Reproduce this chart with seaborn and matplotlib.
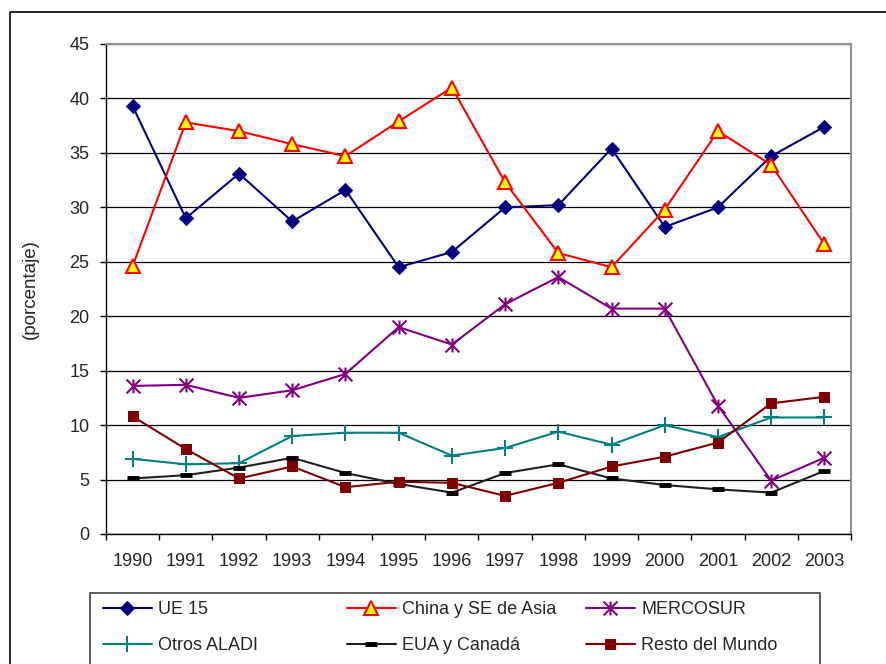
import numpy as np
import pandas as pd
import matplotlib
matplotlib.use("Agg")
import matplotlib.pyplot as plt
from matplotlib.path import Path
from matplotlib.patches import Rectangle
import seaborn as sns

# --- data (% share) ---
years = [1990, 1991, 1992, 1993, 1994, 1995, 1996, 1997, 1998, 1999, 2000, 2001, 2002, 2003]
ue15 = [39.3, 29.0, 33.1, 28.7, 31.6, 24.5, 25.9, 30.0, 30.2, 35.4, 28.2, 30.0, 34.7, 37.4]
china_se_asia = [24.6, 37.8, 37.0, 35.8, 34.7, 37.9, 41.0, 32.3, 25.8, 24.5, 29.8, 37.0, 33.9, 26.6]
mercosur = [13.6, 13.7, 12.5, 13.2, 14.7, 19.0, 17.4, 21.1, 23.6, 20.7, 20.7, 11.8, 4.9, 7.0]
otros_aladi = [6.9, 6.4, 6.5, 9.0, 9.3, 9.3, 7.2, 7.9, 9.4, 8.2, 10.0, 8.9, 10.7, 10.7]
eua_canada = [5.1, 5.4, 6.1, 7.0, 5.6, 4.6, 3.8, 5.6, 6.4, 5.1, 4.5, 4.1, 3.8, 5.8]
resto_mundo = [10.8, 7.8, 5.1, 6.2, 4.3, 4.8, 4.7, 3.5, 4.7, 6.2, 7.1, 8.4, 12.0, 12.6]

series_names = ["UE 15", "China y SE de Asia", "MERCOSUR",
                "Otros ALADI", "EUA y Canadá", "Resto del Mundo"]
series_values = [ue15, china_se_asia, mercosur, otros_aladi, eua_canada, resto_mundo]
y_ticks = [0, 5, 10, 15, 20, 25, 30, 35, 40, 45]

# Excel-like asterisk marker (vertical bar + X)
asterisk = Path([(0, -1), (0, 1), (-1, -1), (1, 1), (-1, 1), (1, -1)],
                [Path.MOVETO, Path.LINETO, Path.MOVETO, Path.LINETO, Path.MOVETO, Path.LINETO])

styles = {
    "UE 15": dict(color="#000080", marker="D", markersize=7.5, markerfacecolor="#000080",
                  markeredgecolor="#000080"),
    "China y SE de Asia": dict(color="#FF0000", marker="^", markersize=10, markerfacecolor="#FFFF00",
                               markeredgecolor="#FF0000", markeredgewidth=1.5),
    "MERCOSUR": dict(color="#800080", marker=asterisk, markersize=10, markerfacecolor="none",
                     markeredgecolor="#800080", markeredgewidth=1.5),
    "Otros ALADI": dict(color="#008080", marker="+", markersize=11, markeredgecolor="#008080",
                        markeredgewidth=1.5),
    "EUA y Canadá": dict(color="#202020", marker="_", markersize=8, markeredgecolor="#000000",
                         markeredgewidth=3.5),
    "Resto del Mundo": dict(color="#800000", marker="s", markersize=7.5, markerfacecolor="#800000",
                            markeredgecolor="#800000"),
}

sns.set_theme(style="white")
plt.rcParams["font.family"] = ["Liberation Sans", "DejaVu Sans"]

df = pd.DataFrame({"year": np.repeat(years, len(series_names)),
                   "serie": series_names * len(years),
                   "valor": np.array(series_values).T.ravel()})

fig = plt.figure(figsize=(8.86, 6.64), dpi=100)
W, H = 886, 664
ax = fig.add_axes([106 / W, 1 - 534 / H, (851 - 106) / W, (534 - 44) / H])

for name in series_names:
    sub = df[df["serie"] == name]
    sns.lineplot(data=sub, x="year", y="valor", ax=ax, linewidth=1.5, label=name,
                 clip_on=False, zorder=3, **styles[name])
h, l = ax.get_legend_handles_labels()
handles = dict(zip(l, h))
ax.get_legend().remove()

# axes styling (Excel look)
ax.set_xlim(years[0] - 0.5, years[-1] + 0.5)
ax.set_ylim(0, 45)
ax.set_yticks(y_ticks)
ax.set_xticks(years)
ax.set_xticks(np.arange(years[0] - 0.5, years[-1] + 1.0, 1.0), minor=True)
ax.set_xlabel("")
ax.set_ylabel("(porcentaje)", fontsize=13.5, labelpad=22)
ax.yaxis.grid(True, color="black", linewidth=0.9)
ax.set_axisbelow(True)
for side in ("left", "bottom"):
    ax.spines[side].set_color("black")
    ax.spines[side].set_linewidth(1.0)
for side in ("top", "right"):
    ax.spines[side].set_color("#909090")
    ax.spines[side].set_linewidth(1.5)
ax.tick_params(axis="y", which="major", direction="out", length=4.5, width=1, color="black",
               labelsize=13, pad=7.5, left=True)
ax.tick_params(axis="x", which="major", length=0, labelsize=13, pad=14)
ax.tick_params(axis="x", which="minor", direction="out", length=4.5, width=1, color="black",
               bottom=True)

# outer chart border
fig.patches.append(Rectangle((10 / W, -0.1), 1.2, 1 - 12 / H + 0.1, transform=fig.transFigure,
                             fill=False, edgecolor="black", linewidth=1.2))
# legend box
fig.patches.append(Rectangle((90 / W, -0.05), (820 - 90) / W, 1 - 593 / H + 0.05,
                             transform=fig.transFigure, fill=False, edgecolor="#404040",
                             linewidth=1.2))

col_x = [103, 347, 586]
columns = [["UE 15", "Otros ALADI"], ["China y SE de Asia", "EUA y Canadá"],
           ["MERCOSUR", "Resto del Mundo"]]
for x, names in zip(col_x, columns):
    fig.legend([handles[n] for n in names], names, loc="center left",
               bbox_to_anchor=(x / W, 1 - 627.5 / H), frameon=False, fontsize=13,
               handlelength=2.7, handletextpad=0.35, labelspacing=1.07,
               borderpad=0, borderaxespad=0)

fig.savefig("out.png", dpi=100)
